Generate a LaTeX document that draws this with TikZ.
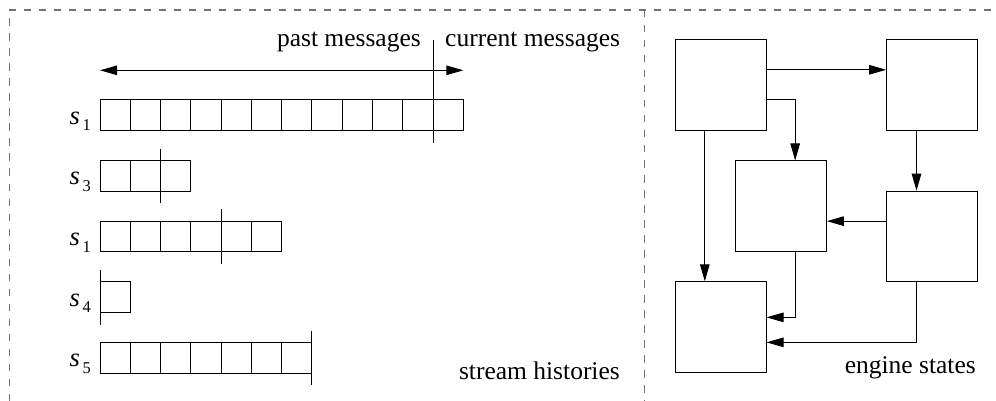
\documentclass[tikz,border=0pt]{standalone}
\usepackage{fontspec}
\setmainfont{Liberation Serif}
\usetikzlibrary{arrows.meta,calc}
\tikzset{
  txt/.style={font=\fontsize{25.5}{30}\selectfont, inner sep=0pt},
  frame/.style={draw=black!55, line width=1.4pt, dash pattern=on 7.5pt off 7.5pt},
  cellline/.style={draw=black, line width=1pt},
  marker/.style={draw=black, line width=1pt},
  statebox/.style={draw=black, line width=1pt, minimum width=91pt, minimum height=90.7pt, inner sep=0pt},
  arr/.style={draw=black, line width=1pt, -{Triangle[length=17pt,width=9.5pt]}},
  darr/.style={draw=black, line width=1pt, {Triangle[length=17pt,width=9.5pt]}-{Triangle[length=17pt,width=9.5pt]}},
}
\newcommand{\slab}[1]{\textit{s}\kern2.5pt\raisebox{-6.7pt}{\fontsize{16.5}{17}\selectfont #1}}
\begin{document}
\begin{tikzpicture}[x=1pt,y=-1pt]
\useasboundingbox (0,0) rectangle (996,401);
% dashed frame
\coordinate (fc) at (9.5,10);
\coordinate (fr) at (996,10);
\coordinate (fb) at (9.5,401);
\coordinate (dt) at (644.5,10);
\coordinate (db) at (644.5,401);
\draw[frame] (fb) -- (fc) -- (fr);
\draw[frame] (dt) -- (db);
% stream histories
\def\cw{30.28}
\def\ch{30.6}
\foreach \row/\n/\m/\lab in {0/12/11/1, 1/3/2/3, 2/6/4/1, 3/1/0/4, 4/7/7/5}{
  \pgfmathsetmacro{\top}{100+60.65*\row}
  \foreach \i in {1,...,\n}{
    \draw[cellline] ({100+(\i-1)*\cw},\top) rectangle ({100+\i*\cw},{\top+\ch});
  }
  \node[txt, anchor=base east, font=\fontsize{26.5}{30}\selectfont] (lab\row) at (91,{\top+24.3}) {\slab{\lab}};
  \ifnum\row=0\relax
  \else
    \draw[marker] ({100+\m*\cw},{\top-12}) -- ({100+\m*\cw},{\top+\ch+12});
  \fi
}
% row 1 marker (tall)
\coordinate (mk1) at ({100+11*\cw},40.5);
\coordinate (mk2) at ({100+11*\cw},142.6);
\draw[marker] (mk1) -- (mk2);
% double arrow
\coordinate (hl) at (100,70.3);
\coordinate (hr) at ({100+12*\cw},70.3);
\draw[darr] (hl) -- (hr);
\node[txt, anchor=base east] (past) at (421,47) {past messages};
\node[txt, anchor=base west] (curr) at (445,47) {current messages};
\node[txt, anchor=base east] (sh) at (620,379.5) {stream histories};
% engine states
\node[statebox] (TL) at (720.5,85.35) {};
\node[statebox] (TR) at (932.2,85.35) {};
\node[statebox] (ML) at (780.85,206.35) {};
\node[statebox] (MR) at (932.2,236.5) {};
\node[statebox] (BL) at (720.5,327.2) {};
\coordinate (a1) at ($(TL.north east)+(0,30.3)$);
\draw[arr] (a1) -- (a1 -| TR.west);
\coordinate (a2) at ($(TL.north east)+(0,60)$);
\coordinate (m2) at ($(ML.north west)+(60.3,0)$);
\draw[arr] (a2) -| (m2);
\coordinate (a3) at ($(TL.south west)+(30.3,0)$);
\draw[arr] (a3) -- (a3 |- BL.north);
\coordinate (a4) at ($(TR.south west)+(30.3,0)$);
\draw[arr] (a4) -- (a4 |- MR.north);
\coordinate (a5) at ($(MR.north west)+(0,30.5)$);
\draw[arr] (a5) -- (a5 -| ML.east);
\coordinate (a6) at ($(ML.south west)+(60.3,0)$);
\coordinate (b6) at ($(BL.north east)+(0,36)$);
\draw[arr] (a6) |- (b6);
\coordinate (a7) at ($(MR.south west)+(30.3,0)$);
\coordinate (b7) at ($(BL.north east)+(0,61)$);
\draw[arr] (a7) |- (b7);
\node[txt, anchor=base east] (es) at (976,373.3) {engine states};
\end{tikzpicture}
\end{document}
